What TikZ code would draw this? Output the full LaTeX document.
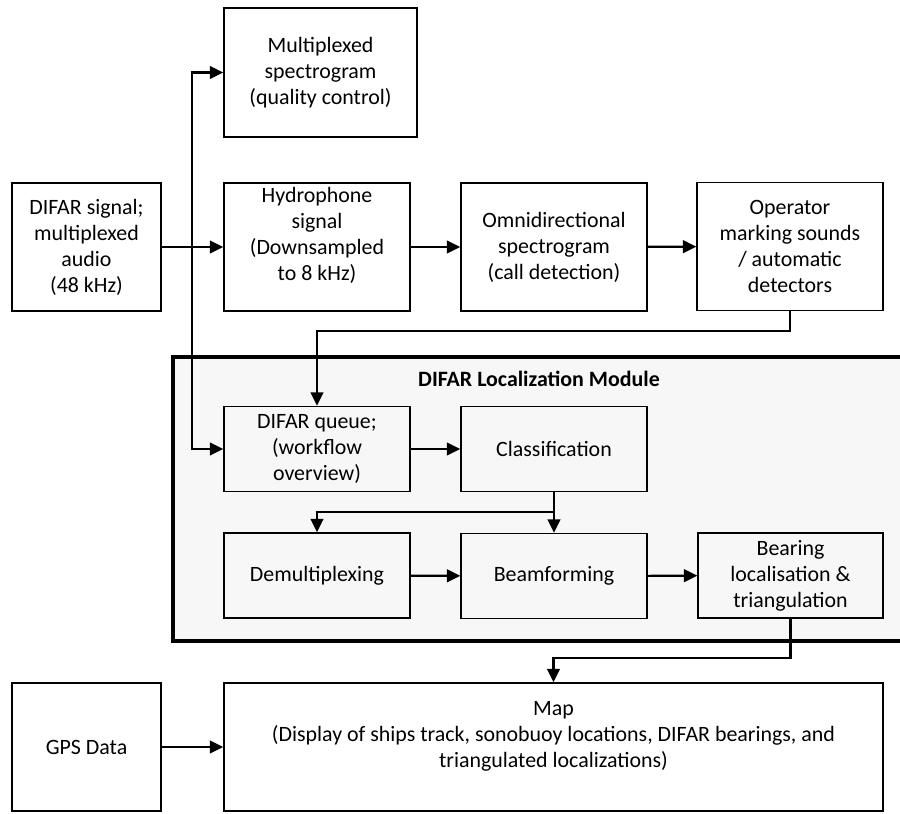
\documentclass[tikz,border=0pt]{standalone}
\usepackage{fontspec}
\setmainfont{Carlito}
\usetikzlibrary{arrows.meta}

\begin{document}
\begin{tikzpicture}[x=0.03cm,y=-0.03cm,
  box/.style={draw,line width=1.2pt,align=center,inner sep=0pt},
  wide/.style={box,minimum width=5.58cm,minimum height=3.84cm},
  flat/.style={box,minimum width=5.58cm,minimum height=2.56cm},
  link/.style={line width=1.8pt,-{Triangle[length=0.4cm,width=0.38cm]}}]
\fontsize{18.7}{22.2}\selectfont
\useasboundingbox (0,0) rectangle (900,813);

% localization module frame
\draw [line width=3.4pt,fill=black!3] (173,357) rectangle (930,641);
\node [font=\bfseries] (title) at (539,379) {DIFAR Localization Module};

\node [box,minimum width=4.47cm,minimum height=3.84cm] (difar) at (86.5,247) {DIFAR signal;\\multiplexed\\audio\\(48 kHz)};
\node [box,minimum width=5.79cm,minimum height=3.87cm] (multi) at (320.5,72.5) {Multiplexed\\spectrogram\\(quality control)};
\node [wide] (hydro) at (317,247) {};
\node (hydrotext) at (317,235) [align=center] {Hydrophone\\signal\\(Downsampled\\to 8 kHz)};
\node [wide] (omni) at (554,247) {Omnidirectional\\spectrogram\\(call detection)};
\node [wide] (oper) at (790,246.5) {Operator\\marking sounds\\/ automatic\\detectors};
\node [flat] (queue) at (317,449) {DIFAR queue;\\(workflow\\overview)};
\node [flat] (class) at (554,449) {Classification};
\node [flat] (demux) at (317,575.5) {Demultiplexing};
\node [flat] (beam) at (554,576) {Beamforming};
\node [flat,minimum width=5.55cm] (bear) at (790.5,575.5) {Bearing\\localisation \&\\triangulation};
\node [box,minimum width=4.47cm,minimum height=3.84cm] (gps) at (86.5,747) {GPS Data};
\node [box,minimum width=19.77cm,minimum height=3.84cm] (map) at (553.5,747) {};
\node (maptext) at (553.5,736) [align=center] {Map\\(Display of ships track, sonobuoy locations, DIFAR bearings, and\\triangulated localizations)};

\coordinate (split) at (192,247);
\draw [link] (difar) -- (hydro);
\draw [link] (split) |- (multi.west);
\draw [link] (split) |- (queue.west);
\draw [link] (hydro) -- (omni);
\draw [link] (omni) -- (oper);
\draw [link] (oper.south) -- ++(0,20) -| (queue.north);
\draw [link] (queue) -- (class);
\draw [link] (class.south) -- (beam.north);
\draw [link] (class.south) -- ++(0,20) -| (demux.north);
\draw [link] (demux) -- (beam);
\draw [link] (beam) -- (bear);
\draw [link] (bear.south) -- ++(0,39) -| (map.north);
\draw [link] (gps) -- (map);
\end{tikzpicture}
\end{document}
